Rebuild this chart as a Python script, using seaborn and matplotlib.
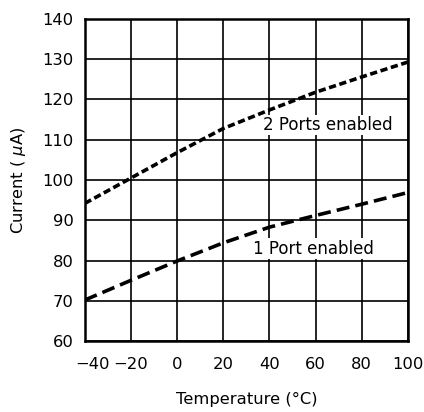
import numpy as np
import pandas as pd
import seaborn as sns
import matplotlib.pyplot as plt
from matplotlib.transforms import ScaledTranslation

temps = [-40, -20, 0, 20, 40, 60, 80, 100]
two_ports = [94.2, 100.5, 106.8, 112.8, 117.4, 121.8, 125.6, 129.3]
one_port = [70.2, 75.1, 79.9, 84.4, 88.3, 91.2, 94.0, 96.9]

sns.set_style("white")
plt.rcParams["font.family"] = ["DejaVu Sans"]
plt.rcParams["mathtext.fontset"] = "dejavusans"
plt.rcParams["text.color"] = "black"
plt.rcParams["axes.labelcolor"] = "black"

df = pd.DataFrame({"temp": temps, "two": two_ports, "one": one_port})

fig = plt.figure(figsize=(4.24, 4.12), dpi=100)
ax = fig.add_axes([0.200, 0.172, 0.762, 0.782])

sns.lineplot(data=df, x="temp", y="two", ax=ax, color="black",
             linewidth=2.6, dashes=False)
sns.lineplot(data=df, x="temp", y="one", ax=ax, color="black",
             linewidth=2.6, dashes=False)
ax.lines[0].set_dashes((2.0, 1.0))
ax.lines[1].set_dashes((3.6, 1.7))

ax.set_xlim(-40, 100)
ax.set_ylim(60, 140)
ax.set_xticks(np.arange(-40, 101, 20))
ax.set_yticks(np.arange(60, 141, 10))
ax.set_xticklabels(["\u221240", "\u221220", "0", "20", "40", "60", "80", "100"])
ax.grid(True, color="black", linewidth=1.2)
ax.set_axisbelow(True)
for s in ax.spines.values():
    s.set_color("black")
    s.set_linewidth(1.8)
ax.tick_params(axis="both", length=0, labelsize=11.8, colors="black")
ax.tick_params(axis="x", pad=11.5)
ax.tick_params(axis="y", pad=8)
first = ax.get_xticklabels()[0]
first.set_transform(first.get_transform() + ScaledTranslation(8 / 100, 0, fig.dpi_scale_trans))

ax.set_xlabel("Temperature (\u00b0C)", fontsize=11.8, labelpad=14)
ax.set_ylabel("Current ( $\\mu$A)", fontsize=11.8, labelpad=10)

ax.text(65.2, 113.7, "2 Ports enabled", fontsize=12, ha="center", va="center",
        bbox=dict(facecolor="white", edgecolor="none", pad=1))
ax.text(58.9, 83.0, "1 Port enabled", fontsize=12, ha="center", va="center",
        bbox=dict(facecolor="white", edgecolor="none", pad=1))

fig.savefig("out.png", dpi=100)
